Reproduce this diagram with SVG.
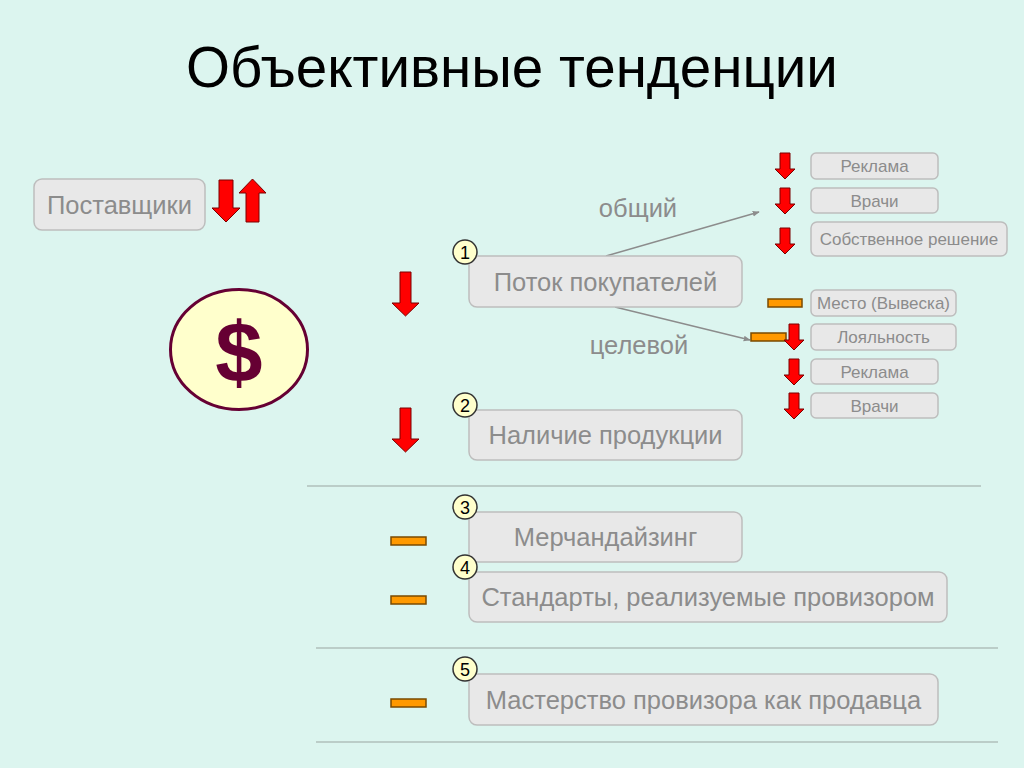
<svg xmlns="http://www.w3.org/2000/svg" xmlns:xlink="http://www.w3.org/1999/xlink" width="1024" height="768" viewBox="0 0 1024 768">
<style>
.bg{fill:#DCF5EF}
.box{fill:#E8E8E8;stroke:#BDBDBD;stroke-width:1.5}
.t{font-family:"Liberation Sans",Arial,sans-serif;fill:#8C8C8C;text-anchor:middle}
.big{font-size:25.5px}
.sm{font-size:17px}
.num{fill:#FFFFCC;stroke:#333333;stroke-width:1.5}
.numt{font-family:"Liberation Sans",Arial,sans-serif;font-size:18px;fill:#000;text-anchor:middle}
.red{fill:#FF0000;stroke:#7A0000;stroke-width:1}
.or{fill:#FF9900;stroke:#7A4A00;stroke-width:1.5}
.sep{stroke:#9AA5A2;stroke-width:1.2;fill:none}
.con{stroke:#8C8C8C;stroke-width:1.5;fill:none}
</style>
<defs>
<marker id="ah" viewBox="0 0 10 10" refX="9" refY="5" markerWidth="7" markerHeight="7" orient="auto" markerUnits="userSpaceOnUse">
<path d="M0,1 L10,5 L0,9 z" fill="#8C8C8C"/>
</marker>
<path id="sa" d="M-5,0 h10 v16 h5 l-10,10 l-10,-10 h5 z"/>
<path id="ba" d="M-5.5,0 h11 v31 h8 l-13.5,13 l-13.5,-13 h8 z"/>
</defs>
<rect class="bg" x="0" y="0" width="1024" height="768"/>

<text x="512" y="87" font-family="Liberation Sans,Arial,sans-serif" font-size="56.5" fill="#000" text-anchor="middle">Объективные тенденции</text>

<g id="separators">
<line class="sep" x1="307" y1="486" x2="981" y2="486"/>
<line class="sep" x1="316" y1="648" x2="998" y2="648"/>
<line class="sep" x1="316" y1="742" x2="998" y2="742"/>
</g>

<g id="connectors">
<line class="con" x1="606" y1="256" x2="759" y2="212" marker-end="url(#ah)"/>
<line class="con" x1="615" y1="307" x2="750" y2="340" marker-end="url(#ah)"/>
</g>

<g id="suppliers">
<rect class="box" x="34" y="179" width="171" height="51" rx="8"/>
<text class="t big" x="119.5" y="214">Поставщики</text>
<polygon class="red" points="219,180 233,180 233,208 240,208 226,222 212,208 219,208"/>
<polygon class="red" points="252.5,179 266,193 259,193 259,222 246,222 246,193 239,193"/>
</g>

<g id="dollar">
<ellipse cx="239" cy="349.5" rx="68.5" ry="60" fill="#FFFFCC" stroke="#660033" stroke-width="3"/>
<text x="239" y="382" font-family="Liberation Sans,Arial,sans-serif" font-size="85" font-weight="bold" fill="#660033" text-anchor="middle">$</text>
</g>

<g id="left-arrows">
<use xlink:href="#ba" class="red" x="405.5" y="272"/>
<use xlink:href="#ba" class="red" x="405.5" y="408"/>
</g>

<g id="node1">
<rect class="box" x="469" y="256" width="273" height="51" rx="8"/>
<text class="t big" x="605.5" y="291">Поток покупателей</text>
<circle class="num" cx="465" cy="252" r="12"/>
<text class="numt" x="465" y="258.5">1</text>
</g>
<text class="t big" x="638" y="217">общий</text>
<text class="t big" x="639" y="354">целевой</text>

<g id="node2">
<rect class="box" x="469" y="410" width="273" height="50" rx="8"/>
<text class="t big" x="605.5" y="444">Наличие продукции</text>
<circle class="num" cx="465" cy="405" r="12"/>
<text class="numt" x="465" y="411.5">2</text>
</g>

<g id="general">
<rect class="box" x="811" y="153" width="127" height="26" rx="5"/>
<text class="t sm" x="874.5" y="172">Реклама</text>
<rect class="box" x="811" y="188" width="127" height="25" rx="5"/>
<text class="t sm" x="874.5" y="206.5">Врачи</text>
<rect class="box" x="811" y="222" width="196" height="34" rx="6"/>
<text class="t sm" x="909" y="245">Собственное решение</text>
<use xlink:href="#sa" class="red" x="785" y="153"/>
<use xlink:href="#sa" class="red" x="785" y="188"/>
<use xlink:href="#sa" class="red" x="785" y="228"/>
</g>

<g id="target">
<rect class="box" x="811" y="290" width="145" height="26" rx="5"/>
<text class="t sm" x="883.5" y="309">Место (Вывеска)</text>
<rect class="box" x="811" y="324" width="145" height="26" rx="5"/>
<text class="t sm" x="883.5" y="343">Лояльность</text>
<rect class="box" x="811" y="359" width="127" height="25" rx="5"/>
<text class="t sm" x="874.5" y="377.5">Реклама</text>
<rect class="box" x="811" y="393" width="127" height="25" rx="5"/>
<text class="t sm" x="874.5" y="411.5">Врачи</text>
<rect class="or" x="768" y="299" width="34" height="8"/>
<rect class="or" x="751" y="333" width="35" height="8"/>
<use xlink:href="#sa" class="red" x="794" y="324"/>
<use xlink:href="#sa" class="red" x="794" y="359"/>
<use xlink:href="#sa" class="red" x="794" y="393"/>
</g>

<g id="node3">
<rect class="box" x="469" y="512" width="273" height="50" rx="8"/>
<text class="t big" x="605.5" y="546">Мерчандайзинг</text>
<circle class="num" cx="465" cy="507" r="12"/>
<text class="numt" x="465" y="513.5">3</text>
<rect class="or" x="391" y="537" width="35" height="8"/>
</g>

<g id="node4">
<rect class="box" x="469" y="572" width="478" height="50" rx="8"/>
<text class="t big" x="708" y="606">Стандарты, реализуемые провизором</text>
<circle class="num" cx="465" cy="567" r="12"/>
<text class="numt" x="465" y="573.5">4</text>
<rect class="or" x="391" y="596" width="35" height="8"/>
</g>

<g id="node5">
<rect class="box" x="469" y="674" width="469" height="51" rx="8"/>
<text class="t big" x="703.5" y="709">Мастерство провизора как продавца</text>
<circle class="num" cx="465" cy="669" r="12"/>
<text class="numt" x="465" y="675.5">5</text>
<rect class="or" x="391" y="699" width="35" height="8"/>
</g>
</svg>
